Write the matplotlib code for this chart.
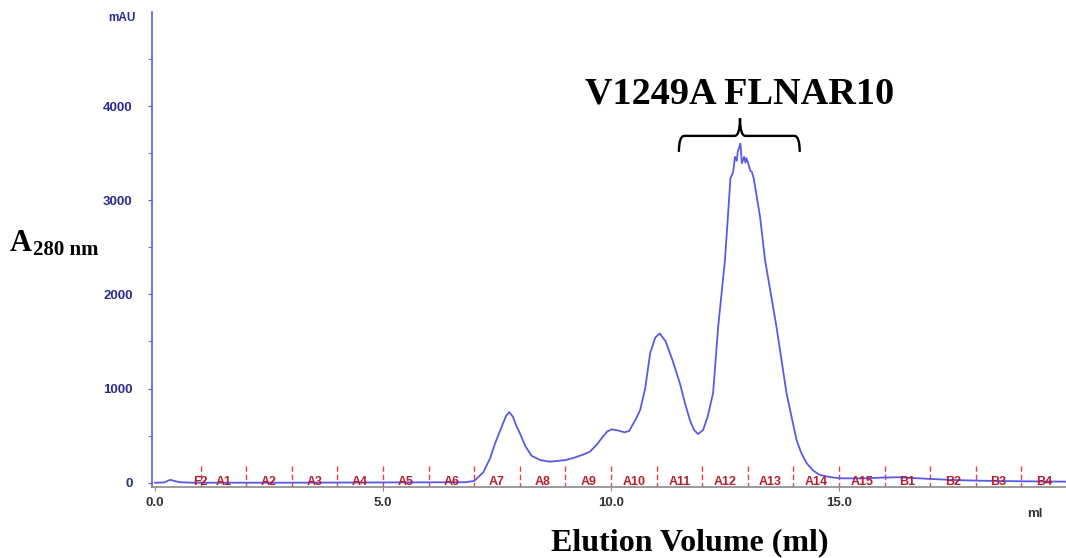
import matplotlib
matplotlib.use('Agg')
import matplotlib.pyplot as plt
from matplotlib.path import Path
from matplotlib.patches import PathPatch

# chromatogram trace (ml, mAU)
volume_ml = [0.0, 0.2, 0.3, 0.35, 0.42, 0.55, 0.8, 3.0, 6.8, 7.0, 7.2, 7.35,
             7.46, 7.6, 7.7, 7.77, 7.85, 7.92, 8.0, 8.12, 8.26, 8.45, 8.66,
             9.0, 9.17, 9.4, 9.54, 9.7, 9.82, 9.92, 10.02, 10.15, 10.3, 10.4,
             10.55, 10.64, 10.75, 10.86, 10.97, 11.07, 11.2, 11.35, 11.51,
             11.62, 11.73, 11.82, 11.91, 12.02, 12.12, 12.24, 12.35, 12.5,
             12.57, 12.62, 12.68, 12.72, 12.76, 12.78, 12.84, 12.87, 12.92,
             12.95, 12.97, 13.01, 13.05, 13.09, 13.13, 13.27, 13.38, 13.63,
             13.85, 14.07, 14.17, 14.29, 14.43, 14.58, 14.8, 15.02, 15.5,
             16.0, 16.3, 16.6, 17.0, 17.5, 18.0, 18.5, 19.0, 19.98]
absorbance = [0, 2, 25, 30, 18, 5, 0, 0, 5, 18, 110, 260,
              420, 590, 710, 750, 700, 610, 528, 390, 285, 240, 223,
              240, 262, 300, 330, 410, 488, 545, 567, 555, 535, 550,
              680, 772, 1000, 1377, 1540, 1586, 1500, 1300, 1058,
              850, 666, 560, 517, 560, 700, 952, 1650, 2364,
              2863, 3235, 3301, 3461, 3420, 3514, 3603, 3394, 3461,
              3400, 3447, 3394, 3320, 3300, 3235, 2824, 2364, 1656,
              952, 453, 320, 209, 130, 82, 60, 47, 45,
              55, 58, 50, 40, 29, 22, 18, 15, 11]

# fraction collector marks
fraction_edges = list(range(1, 20))
fraction_names = ['F2'] + ['A%d' % i for i in range(1, 16)] + ['B%d' % i for i in range(1, 5)]
fraction_pos = [1.0] + [i + 0.5 for i in range(1, 20)]

yticks = [0, 1000, 2000, 3000, 4000]
xticks = [0, 5, 10, 15]
xticklabels = ['0.0', '5.0', '10.0', '15.0']

# brace over the main peak (ml / mAU)
brace_x0, brace_x1, brace_mid = 11.49, 14.14, 12.83
brace_y, brace_end, brace_tip = 3684, 3514, 3870

SANS = 'Liberation Sans'
SERIF = 'Liberation Serif'

fig = plt.figure(figsize=(10.66, 5.58), dpi=100)
ax = fig.add_axes([0.1426, 0.1272, 0.8574, 0.8513])

ax.plot(volume_ml, absorbance, color='#5a5ae6', lw=1.3, zorder=3)

for xe in fraction_edges:
    ax.plot([xe, xe], [-56, 177], color='#e8404f', lw=1.0, ls=(0, (4, 2)), zorder=2)
for name, xp in zip(fraction_names, fraction_pos):
    ax.text(xp, 5, name, ha='center', va='center', fontsize=9, fontweight='bold',
            family=SANS, color='#b51f2e', zorder=4)

ax.set_xlim(-0.066, 19.98)
ax.set_ylim(-46, 5000)

for s in ['top', 'right']:
    ax.spines[s].set_visible(False)
ax.spines['left'].set_color('#5a5ae6')
ax.spines['left'].set_linewidth(1.2)
ax.spines['bottom'].set_color('#8a8a8a')
ax.spines['bottom'].set_linewidth(1.2)

ax.set_yticks(yticks)
ax.set_yticklabels([str(v) for v in yticks])
ax.set_yticks([500, 1500, 2500, 3500, 4500], minor=True)
ax.tick_params(axis='y', which='both', length=3, color='#5a5ae6', pad=11)
ax.tick_params(axis='y', labelsize=9.5, labelcolor='#2b2b90')
ax.set_xticks(xticks)
ax.set_xticklabels(xticklabels)
ax.tick_params(axis='x', length=3, color='#8a8a8a', pad=4, labelsize=9.5, labelcolor='#333333')
for lab in ax.get_xticklabels() + ax.get_yticklabels():
    lab.set_fontweight('bold')
    lab.set_family(SANS)

ax.text(19.3, -0.045, 'ml', transform=ax.get_xaxis_transform(), ha='center', va='top',
        fontsize=9.5, fontweight='bold', family=SANS, color='#333333')
fig.text(0.1144, 0.9677, 'mAU', ha='center', va='center', fontsize=8.5,
         fontweight='bold', family=SANS, color='#2b2b90')

# curly brace
dx, dy = 0.12, (brace_y - brace_end) * 0.6
verts = [(brace_x0, brace_end), (brace_x0, brace_y), (brace_x0 + dx, brace_y),
         (brace_mid - dx, brace_y), (brace_mid, brace_y), (brace_mid, brace_tip),
         (brace_mid, brace_y), (brace_mid + dx, brace_y),
         (brace_x1 - dx, brace_y), (brace_x1, brace_y), (brace_x1, brace_end)]
codes = [Path.MOVETO, Path.CURVE3, Path.CURVE3, Path.LINETO, Path.CURVE3, Path.CURVE3,
         Path.CURVE3, Path.CURVE3, Path.LINETO, Path.CURVE3, Path.CURVE3]
ax.add_patch(PathPatch(Path(verts, codes), fill=False, lw=1.7, color='black', clip_on=False))

fig.text(0.694, 0.8154, 'V1249A FLNAR10', ha='center', va='baseline', fontsize=27.5,
         fontweight='bold', family=SERIF)
fig.text(0.0094, 0.5502, 'A', ha='left', va='baseline', fontsize=22,
         fontweight='bold', family=SERIF)
fig.text(0.031, 0.543, '280 nm', ha='left', va='baseline', fontsize=15,
         fontweight='bold', family=SERIF)
fig.text(0.6468, 0.0143, 'Elution Volume (ml)', ha='center', va='baseline', fontsize=23,
         fontweight='bold', family=SERIF)

fig.savefig('out.png', dpi=100)
